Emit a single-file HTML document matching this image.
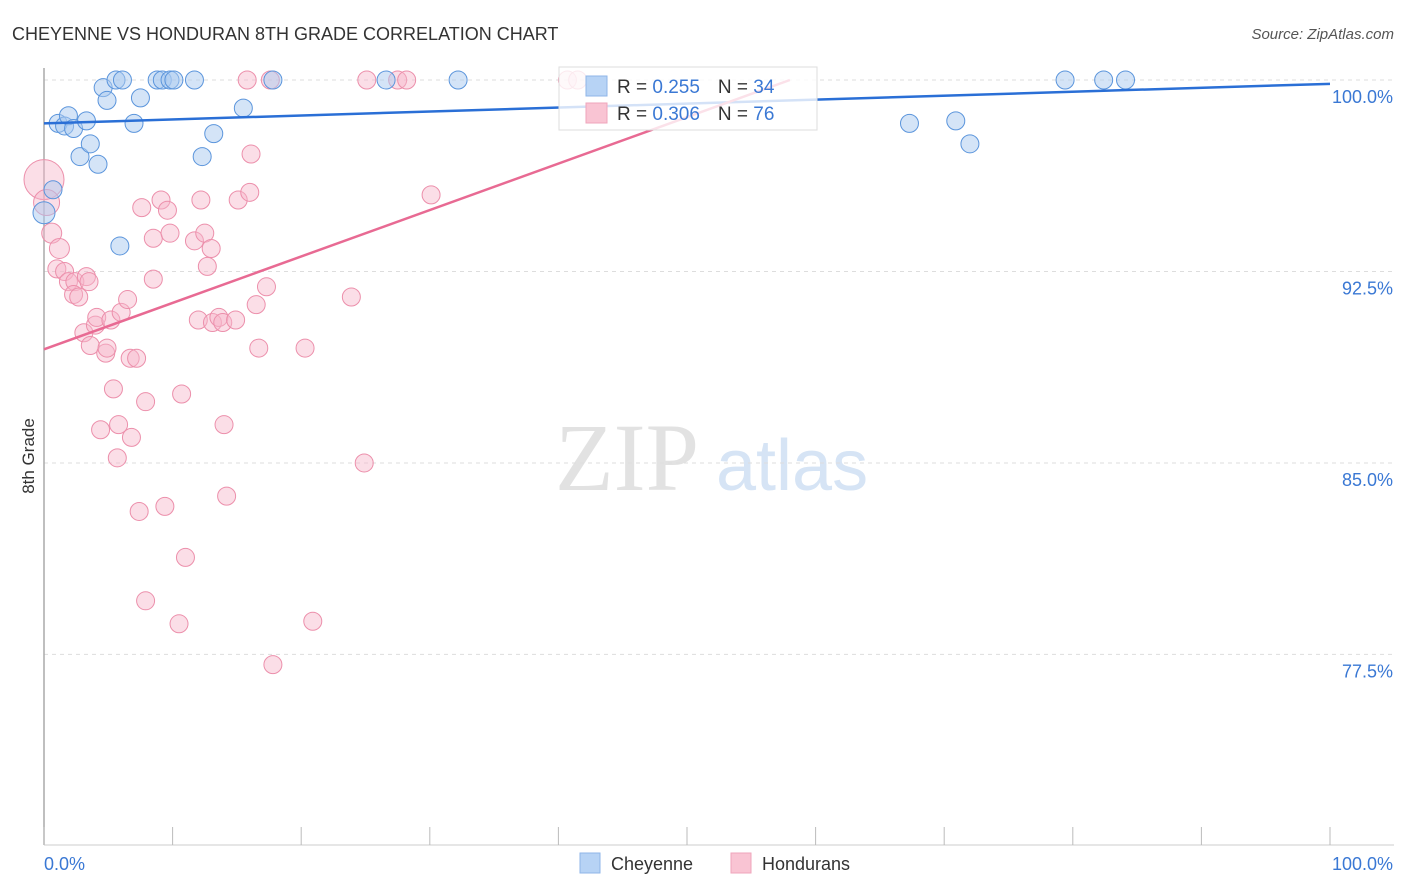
<!DOCTYPE html>
<html><head><meta charset="utf-8"><style>
body{margin:0;background:#fff;font-family:"Liberation Sans",sans-serif}
svg{display:block}
</style></head><body>
<svg width="1406" height="892" xmlns="http://www.w3.org/2000/svg">
<text x="12" y="40" font-size="18" fill="#333" font-family="Liberation Sans,sans-serif">CHEYENNE VS HONDURAN 8TH GRADE CORRELATION CHART</text>
<text x="1394" y="39" font-size="15" fill="#555" text-anchor="end" font-style="italic">Source: ZipAtlas.com</text>
<text x="555" y="490" font-size="96" fill="#e2e2e2" font-family="Liberation Serif,serif">ZIP</text>
<text x="716" y="490" font-size="72" fill="#d6e4f5">atlas</text>
<g id="grid"></g>
<line x1="44" y1="68" x2="44" y2="845" stroke="#aaa" stroke-width="1.5"/>
<line x1="44" y1="845" x2="1394" y2="845" stroke="#ccc" stroke-width="1"/>
<text transform="translate(34,456) rotate(-90)" font-size="17" fill="#333" text-anchor="middle">8th Grade</text>
<g id="ticks"></g>
<g id="pts"></g>
<g id="lines"></g>
<g>
<rect x="559" y="67" width="258" height="63" fill="#fff" fill-opacity="0.8" stroke="#ddd"/>
<rect x="586" y="76" width="21" height="20" fill="#b7d3f5" stroke="#8fb6e8"/>
<rect x="586" y="103" width="21" height="20" fill="#f9c4d3" stroke="#efa5bb"/>
<text x="617" y="93" font-size="19" fill="#333">R = <tspan fill="#3a78d4">0.255</tspan><tspan dx="18">N = </tspan><tspan fill="#3a78d4">34</tspan></text>
<text x="617" y="120" font-size="19" fill="#333">R = <tspan fill="#3a78d4">0.306</tspan><tspan dx="18">N = </tspan><tspan fill="#3a78d4">76</tspan></text>
</g>
<g>
<rect x="580" y="853" width="20" height="20" fill="#b7d3f5" stroke="#8fb6e8"/>
<text x="611" y="870" font-size="18" fill="#333">Cheyenne</text>
<rect x="731" y="853" width="20" height="20" fill="#f9c4d3" stroke="#efa5bb"/>
<text x="762" y="870" font-size="18" fill="#333">Hondurans</text>
</g>
</svg>
<script>
const yTicks=[100,92.5,85,77.5];
const yTickLabels=["100.0%","92.5%","85.0%","77.5%"];
const xTickVals=[0,10,20,30,40,50,60,70,80,90,100];
const blueX=[0,0.7,1.1,1.6,1.9,2.3,2.8,3.3,3.6,4.2,4.6,4.9,5.6,6.1,7.0,7.5,5.9,8.8,9.2,9.8,10.1,11.7,12.3,13.2,15.5,17.8,26.6,32.2,67.3,70.9,72.0,79.4,82.4,84.1];
const blueY=[94.8,95.7,98.3,98.2,98.6,98.1,97.0,98.4,97.5,96.7,99.7,99.2,100,100,98.3,99.3,93.5,100,100,100,100,100,97.0,97.9,98.9,100,100,100,98.3,98.4,97.5,100,100,100];
const pinkX=[0,0.2,0.6,1.2,1.0,1.6,1.9,2.4,2.3,2.7,3.3,3.5,3.1,4.0,4.1,5.2,6.0,6.5,3.6,4.8,4.9,6.7,7.2,5.4,7.9,4.4,5.8,6.8,5.7,7.4,9.4,7.9,11.0,10.5,7.6,8.5,9.1,9.6,9.8,8.5,11.7,12.2,12.5,13.0,12.7,12.0,13.1,13.6,13.9,14.9,16.5,17.3,16.7,10.7,14.0,14.2,15.1,16.0,16.1,20.3,23.9,24.9,30.1,20.9,17.8,15.8,17.6,25.1,27.5,28.2,40.7,41.5];
const pinkY=[96.1,95.2,94.0,93.4,92.6,92.5,92.1,92.1,91.6,91.5,92.3,92.1,90.1,90.4,90.7,90.6,90.9,91.4,89.6,89.3,89.5,89.1,89.1,87.9,87.4,86.3,86.5,86.0,85.2,83.1,83.3,79.6,81.3,78.7,95.0,93.8,95.3,94.9,94.0,92.2,93.7,95.3,94.0,93.4,92.7,90.6,90.5,90.7,90.5,90.6,91.2,91.9,89.5,87.7,86.5,83.7,95.3,95.6,97.1,89.5,91.5,85.0,95.5,78.8,77.1,100,100,100,100,100,100,100];
const blueTrend=[0,98.3,100,99.85];
const pinkTrend=[0,89.45,58,100];
const NS='http://www.w3.org/2000/svg';
const X=v=>44+v*12.86;
const Y=v=>80+(100-v)*25.53;
function mk(t,a,p){const e=document.createElementNS(NS,t);for(const k in a)e.setAttribute(k,a[k]);p.appendChild(e);return e;}
const grid=document.getElementById('grid'),ticks=document.getElementById('ticks'),pts=document.getElementById('pts'),lines=document.getElementById('lines');
yTicks.forEach((v,i)=>{
 const l=mk('line',{x1:44,x2:1394,y1:Y(v),y2:Y(v),stroke:'#ddd','stroke-dasharray':'4,4'},grid);
 
 
 const t=mk('text',{x:1393,y:Y(v)+23,'font-size':18,fill:'#3a78d4','text-anchor':'end'},ticks);
 t.textContent=yTickLabels[i];
 
 
});
xTickVals.forEach(v=>{
 const l=mk('line',{x1:X(v),x2:X(v),y1:827,y2:845,stroke:'#bbb'},ticks);
 
 
});
const t0=mk('text',{x:44,y:870,'font-size':18,fill:'#3a78d4'},ticks);t0.textContent='0.0%';


const t1=mk('text',{x:1393,y:870,'font-size':18,fill:'#3a78d4','text-anchor':'end'},ticks);t1.textContent='100.0%';


pinkX.forEach((x,i)=>{
 const r=i==0?20:(i==1?13:(i<4?10:9));
 const c=mk('circle',{cx:X(x),cy:Y(pinkY[i]),r:r,fill:'#f7b6c9','fill-opacity':0.45,stroke:'#ec8fab','stroke-width':1},pts);
 
 
});
blueX.forEach((x,i)=>{
 const c=mk('circle',{cx:X(x),cy:Y(blueY[i]),r:i==0?11:9,fill:'#a9c9f0','fill-opacity':0.5,stroke:'#5b95dc','stroke-width':1},pts);
 
 
});
const bl=mk('line',{x1:X(blueTrend[0]),y1:Y(blueTrend[1]),x2:X(blueTrend[2]),y2:Y(blueTrend[3]),stroke:'#2a6fd6','stroke-width':2.5},lines);


const pl=mk('line',{x1:X(pinkTrend[0]),y1:Y(pinkTrend[1]),x2:X(pinkTrend[2]),y2:Y(pinkTrend[3]),stroke:'#e86a93','stroke-width':2.5},lines);


</script>
</body></html>
